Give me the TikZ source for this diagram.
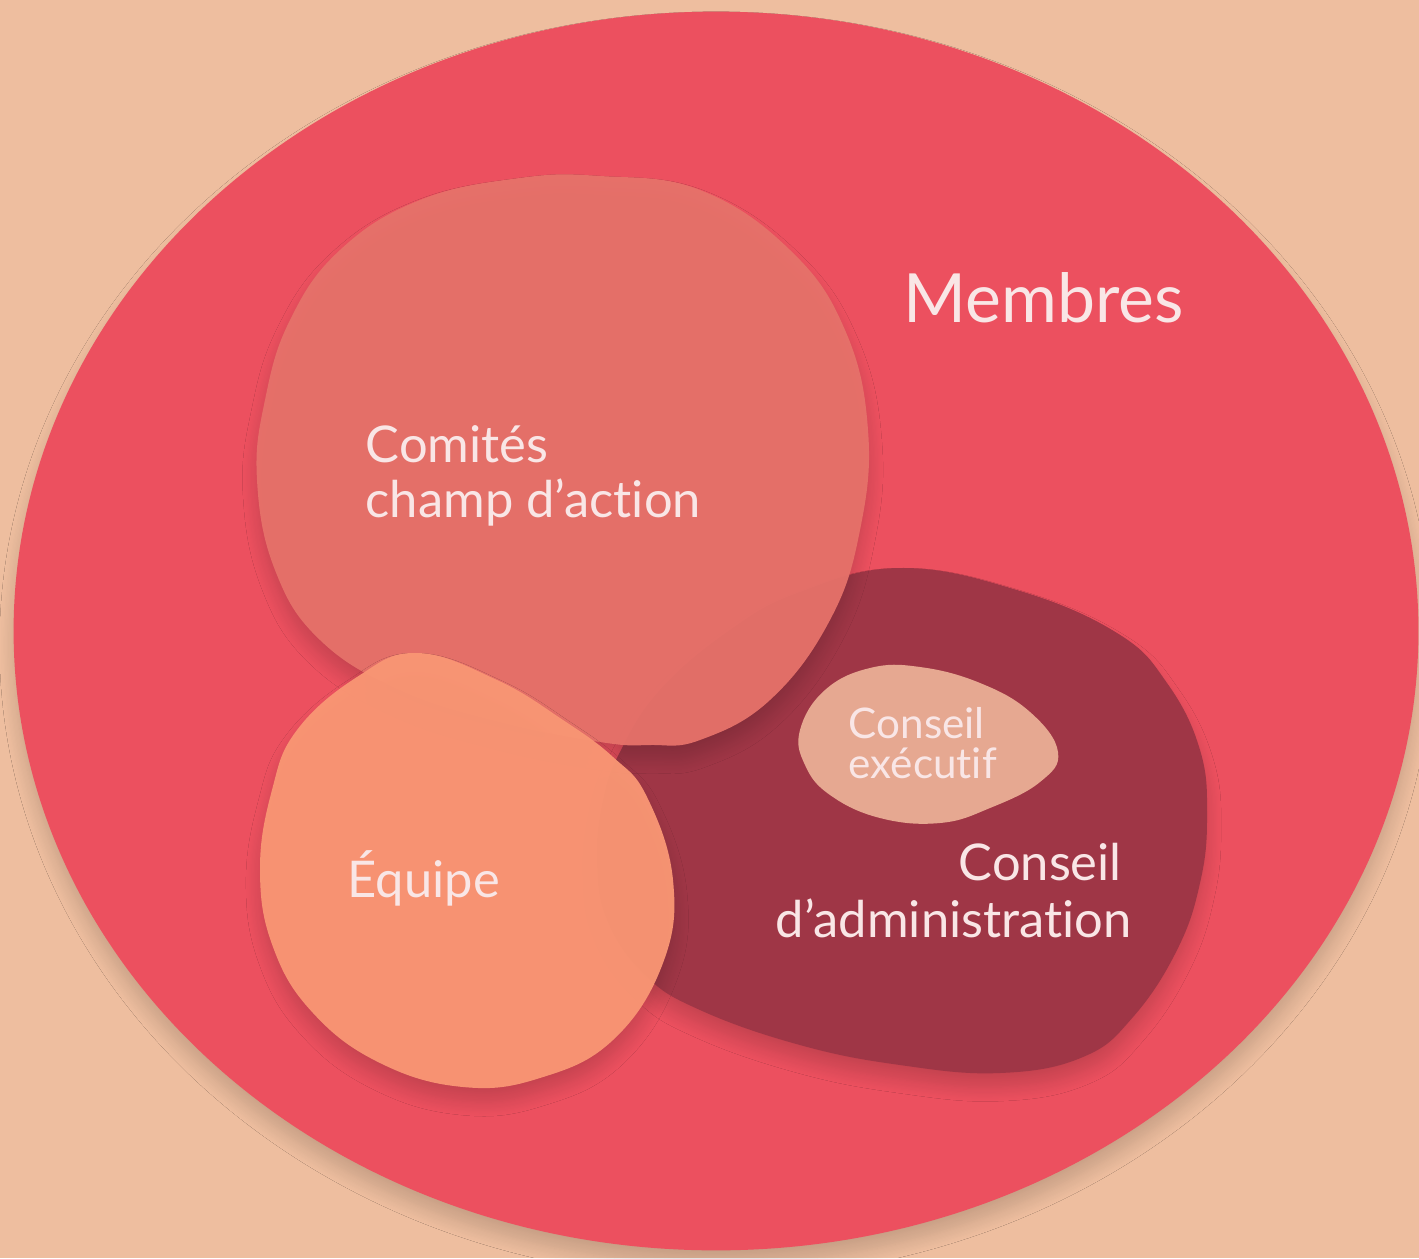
\documentclass[tikz,border=0pt]{standalone}
\usepackage{fontspec}
\setmainfont{Lato}[Ligatures={NoCommon}]
\usetikzlibrary{shadows.blur}
\definecolor{bgpeach}{HTML}{EEBE9F}
\definecolor{membrescol}{HTML}{EC505F}
\definecolor{comitecol}{HTML}{E6726A}
\definecolor{equipecol}{HTML}{F99674}
\definecolor{admincol}{HTML}{9F3646}
\definecolor{execcol}{HTML}{E6A891}
\definecolor{labelcol}{HTML}{F9E6E6}
\tikzset{
  blobshadow/.style={blur shadow={shadow xshift=0pt, shadow yshift=-4pt, shadow blur radius=4pt, shadow blur steps=12, shadow opacity=16}},
  lbl/.style={inner sep=0pt, anchor=base west, text=labelcol},
  bigfont/.style={font=\fontsize{19.3}{23}\selectfont},
  midfont/.style={font=\fontsize{14.4}{17}\selectfont},
  smallfont/.style={font=\fontsize{12}{11.3}\selectfont},
}
\begin{document}
\begin{tikzpicture}[x=0.01cm,y=-0.01cm]
\useasboundingbox (0,0) rectangle (1419,1258);
\fill[bgpeach] (0,0) rectangle (1419,1258);
% Membres
\fill[membrescol, blobshadow] (716,631) ellipse [x radius=7.02cm, y radius=6.19cm];
% Conseil d'administration
\fill[admincol, blobshadow] plot[smooth cycle, tension=0.7] coordinates {
  (620,752) (660,690) (730,630) (800,592) (900,568) (1017,590) (1117,633)
  (1167,683) (1200,750) (1207,817) (1200,883) (1177,950) (1133,1017)
  (1083,1057) (1000,1073) (900,1065) (800,1045) (700,1010) (645,975)
  (607,920) (597,860) (603,800)};
% Conseil executif
\fill[execcol] plot[smooth cycle, tension=0.7] coordinates {
  (800,730) (825,690) (870,668) (920,667) (980,683) (1030,712) (1058,752)
  (1040,782) (990,808) (940,823) (880,818) (830,795) (805,765)};
% Comites
\fill[comitecol, fill opacity=0.95, blobshadow] plot[smooth cycle, tension=0.7] coordinates {
  (257,480) (265,400) (290,320) (340,250) (420,200) (520,178) (600,176)
  (700,190) (790,250) (845,330) (868,430) (860,530) (830,620) (770,700)
  (700,740) (650,745) (600,742) (500,722) (400,690) (320,640) (275,570)};
% Equipe
\fill[equipecol, fill opacity=0.96, blobshadow] plot[smooth cycle, tension=0.7] coordinates {
  (417,653) (497,680) (563,720) (613,757) (647,797) (673,880) (663,963)
  (613,1040) (540,1078) (463,1087) (380,1063) (313,1013) (273,947)
  (260,870) (272,790) (297,730) (357,677)};
% Labels
\node[lbl, bigfont] (membres) at (903,323) {Membres};
\node[lbl, midfont] (comA) at (365,462) {Comités};
\node[lbl, midfont] (comB) at (365,517) {champ d’action};
\node[lbl, midfont] (equipe) at (347,897) {Équipe};
\node[lbl, midfont] (adminA) at (958,880) {Conseil};
\node[lbl, midfont] (adminB) at (775,937) {d’administration};
\node[lbl, smallfont, align=left] (exec) at (848,778) {Conseil\\exécutif};
\end{tikzpicture}
\end{document}
